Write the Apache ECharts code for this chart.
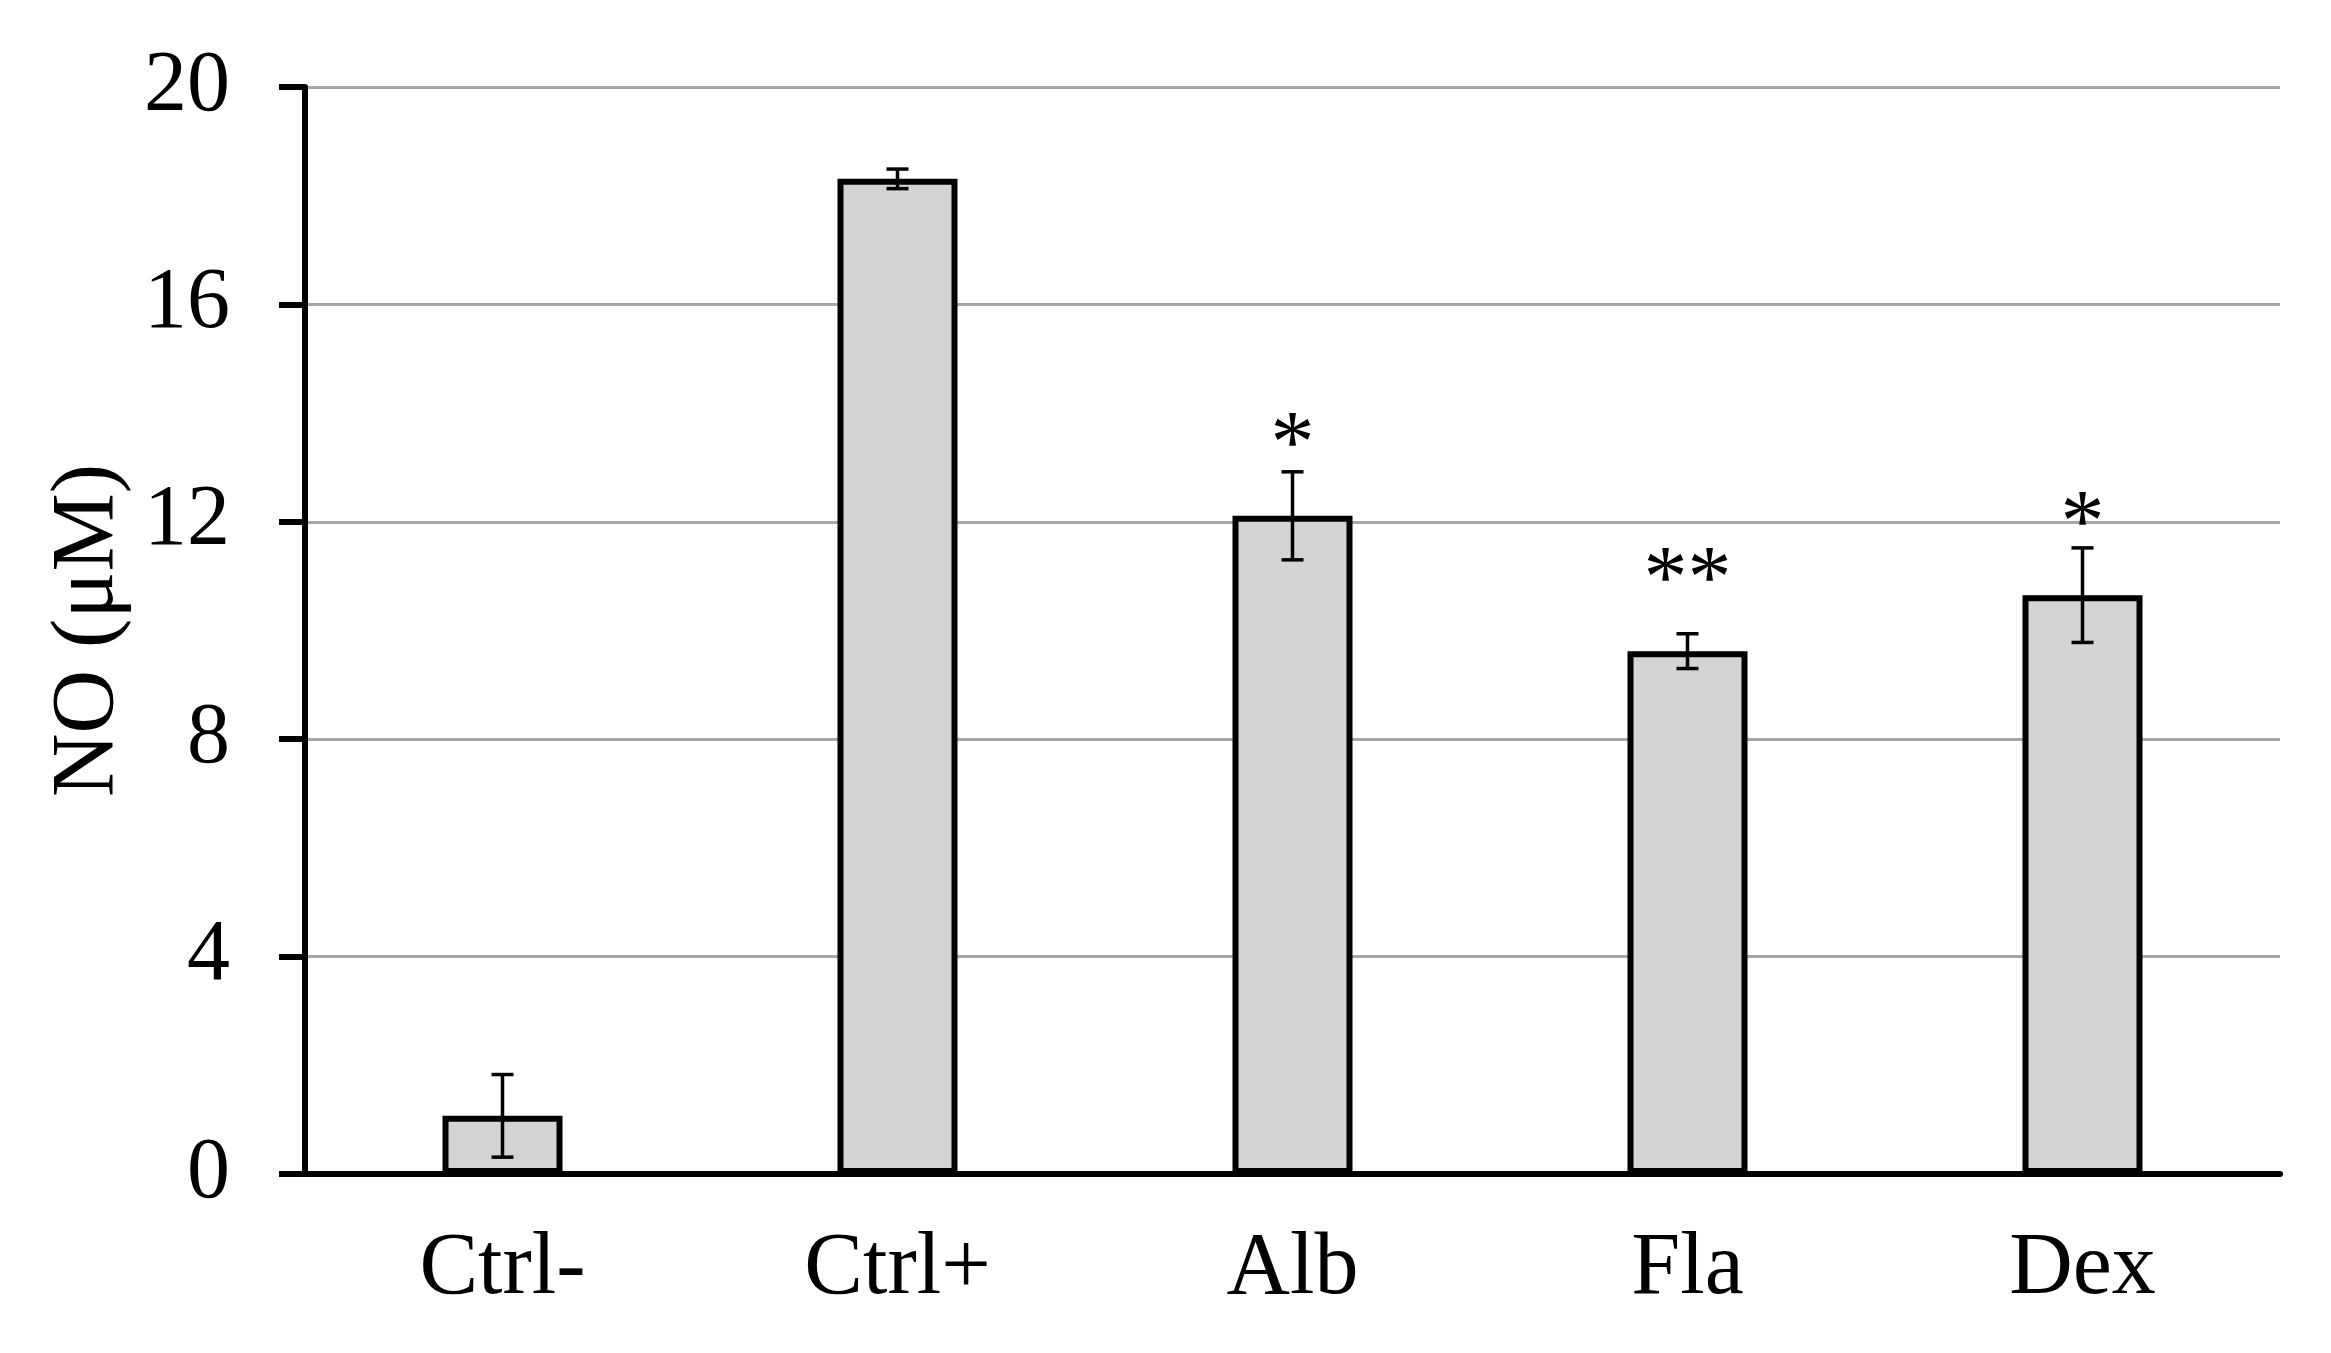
<!DOCTYPE html>
<html>
<head>
<meta charset="utf-8">
<script src="https://cdn.jsdelivr.net/npm/echarts@6/dist/echarts.min.js"></script>
<style>
html,body{margin:0;padding:0;background:#fff;}
#chart{width:2331px;height:1353px;}
</style>
</head>
<body>
<div id="chart"></div>
<script>
// ---- data ----
const categories = ['Ctrl-', 'Ctrl+', 'Alb', 'Fla', 'Dex'];
const means = [1.07, 18.31, 12.11, 9.62, 10.65];
const errors = [0.76, 0.18, 0.81, 0.32, 0.87];
const sigLabels = ['', '', '*', '**', '*'];
const sigY = [null, null, 13.63, 11.15, 12.18];
const yTicks = [0, 4, 8, 12, 16, 20];

const FONT = '"Liberation Serif", "Times New Roman", serif';

const chart = echarts.init(document.getElementById('chart'), null, {renderer: 'canvas'});

const errData = categories.map((c, i) => [i, means[i], errors[i]]);
const sigData = categories.map((c, i) => [i, sigY[i] == null ? 0 : sigY[i], sigLabels[i]]);

const option = {
  animation: false,
  backgroundColor: '#ffffff',
  grid: {left: 305, right: 51, top: 87, bottom: 179, containLabel: false},
  xAxis: {
    type: 'category',
    data: categories,
    axisLine: {show: true, lineStyle: {color: '#000', width: 6}},
    axisTick: {show: false},
    axisLabel: {color: '#000', fontFamily: FONT, fontSize: 88, margin: 52},
    splitLine: {show: false}
  },
  yAxis: {
    type: 'value',
    min: yTicks[0],
    max: yTicks[yTicks.length - 1],
    interval: yTicks[1] - yTicks[0],
    name: 'NO (μM)',
    nameLocation: 'middle',
    nameGap: 170,
    nameRotate: 90,
    nameTextStyle: {color: '#000', fontFamily: FONT, fontSize: 88},
    axisLine: {show: true, lineStyle: {color: '#000', width: 6}},
    axisTick: {show: true, inside: false, length: 26, lineStyle: {color: '#000', width: 6}},
    axisLabel: {color: '#000', fontFamily: FONT, fontSize: 86, margin: 75},
    splitLine: {show: true, lineStyle: {color: '#a6a6a6', width: 3}}
  },
  series: [
    {
      type: 'bar',
      data: means,
      barWidth: 120,
      itemStyle: {color: '#d4d4d4', borderColor: '#000', borderWidth: 6},
      z: 2
    },
    {
      type: 'custom',
      data: errData,
      z: 5,
      renderItem: function (params, api) {
        const x = api.value(0), m = api.value(1), e = api.value(2);
        const top = api.coord([x, m + e]);
        const bot = api.coord([x, m - e]);
        const hw = 11;
        const st = {stroke: '#000', lineWidth: 3.5};
        return {
          type: 'group',
          children: [
            {type: 'line', shape: {x1: top[0], y1: top[1], x2: bot[0], y2: bot[1]}, style: st},
            {type: 'line', shape: {x1: top[0] - hw, y1: top[1], x2: top[0] + hw, y2: top[1]}, style: st},
            {type: 'line', shape: {x1: bot[0] - hw, y1: bot[1], x2: bot[0] + hw, y2: bot[1]}, style: st}
          ]
        };
      }
    },
    {
      type: 'custom',
      data: sigData,
      z: 6,
      renderItem: function (params, api) {
        const label = sigLabels[params.dataIndex];
        if (!label) return null;
        const p = api.coord([api.value(0), api.value(1)]);
        return {
          type: 'text',
          x: p[0],
          y: p[1] + 15,
          style: {
            text: label,
            fill: '#000',
            font: '88px ' + FONT,
            align: 'center',
            verticalAlign: 'middle'
          }
        };
      }
    }
  ]
};
chart.setOption(option);
</script>
</body>
</html>
